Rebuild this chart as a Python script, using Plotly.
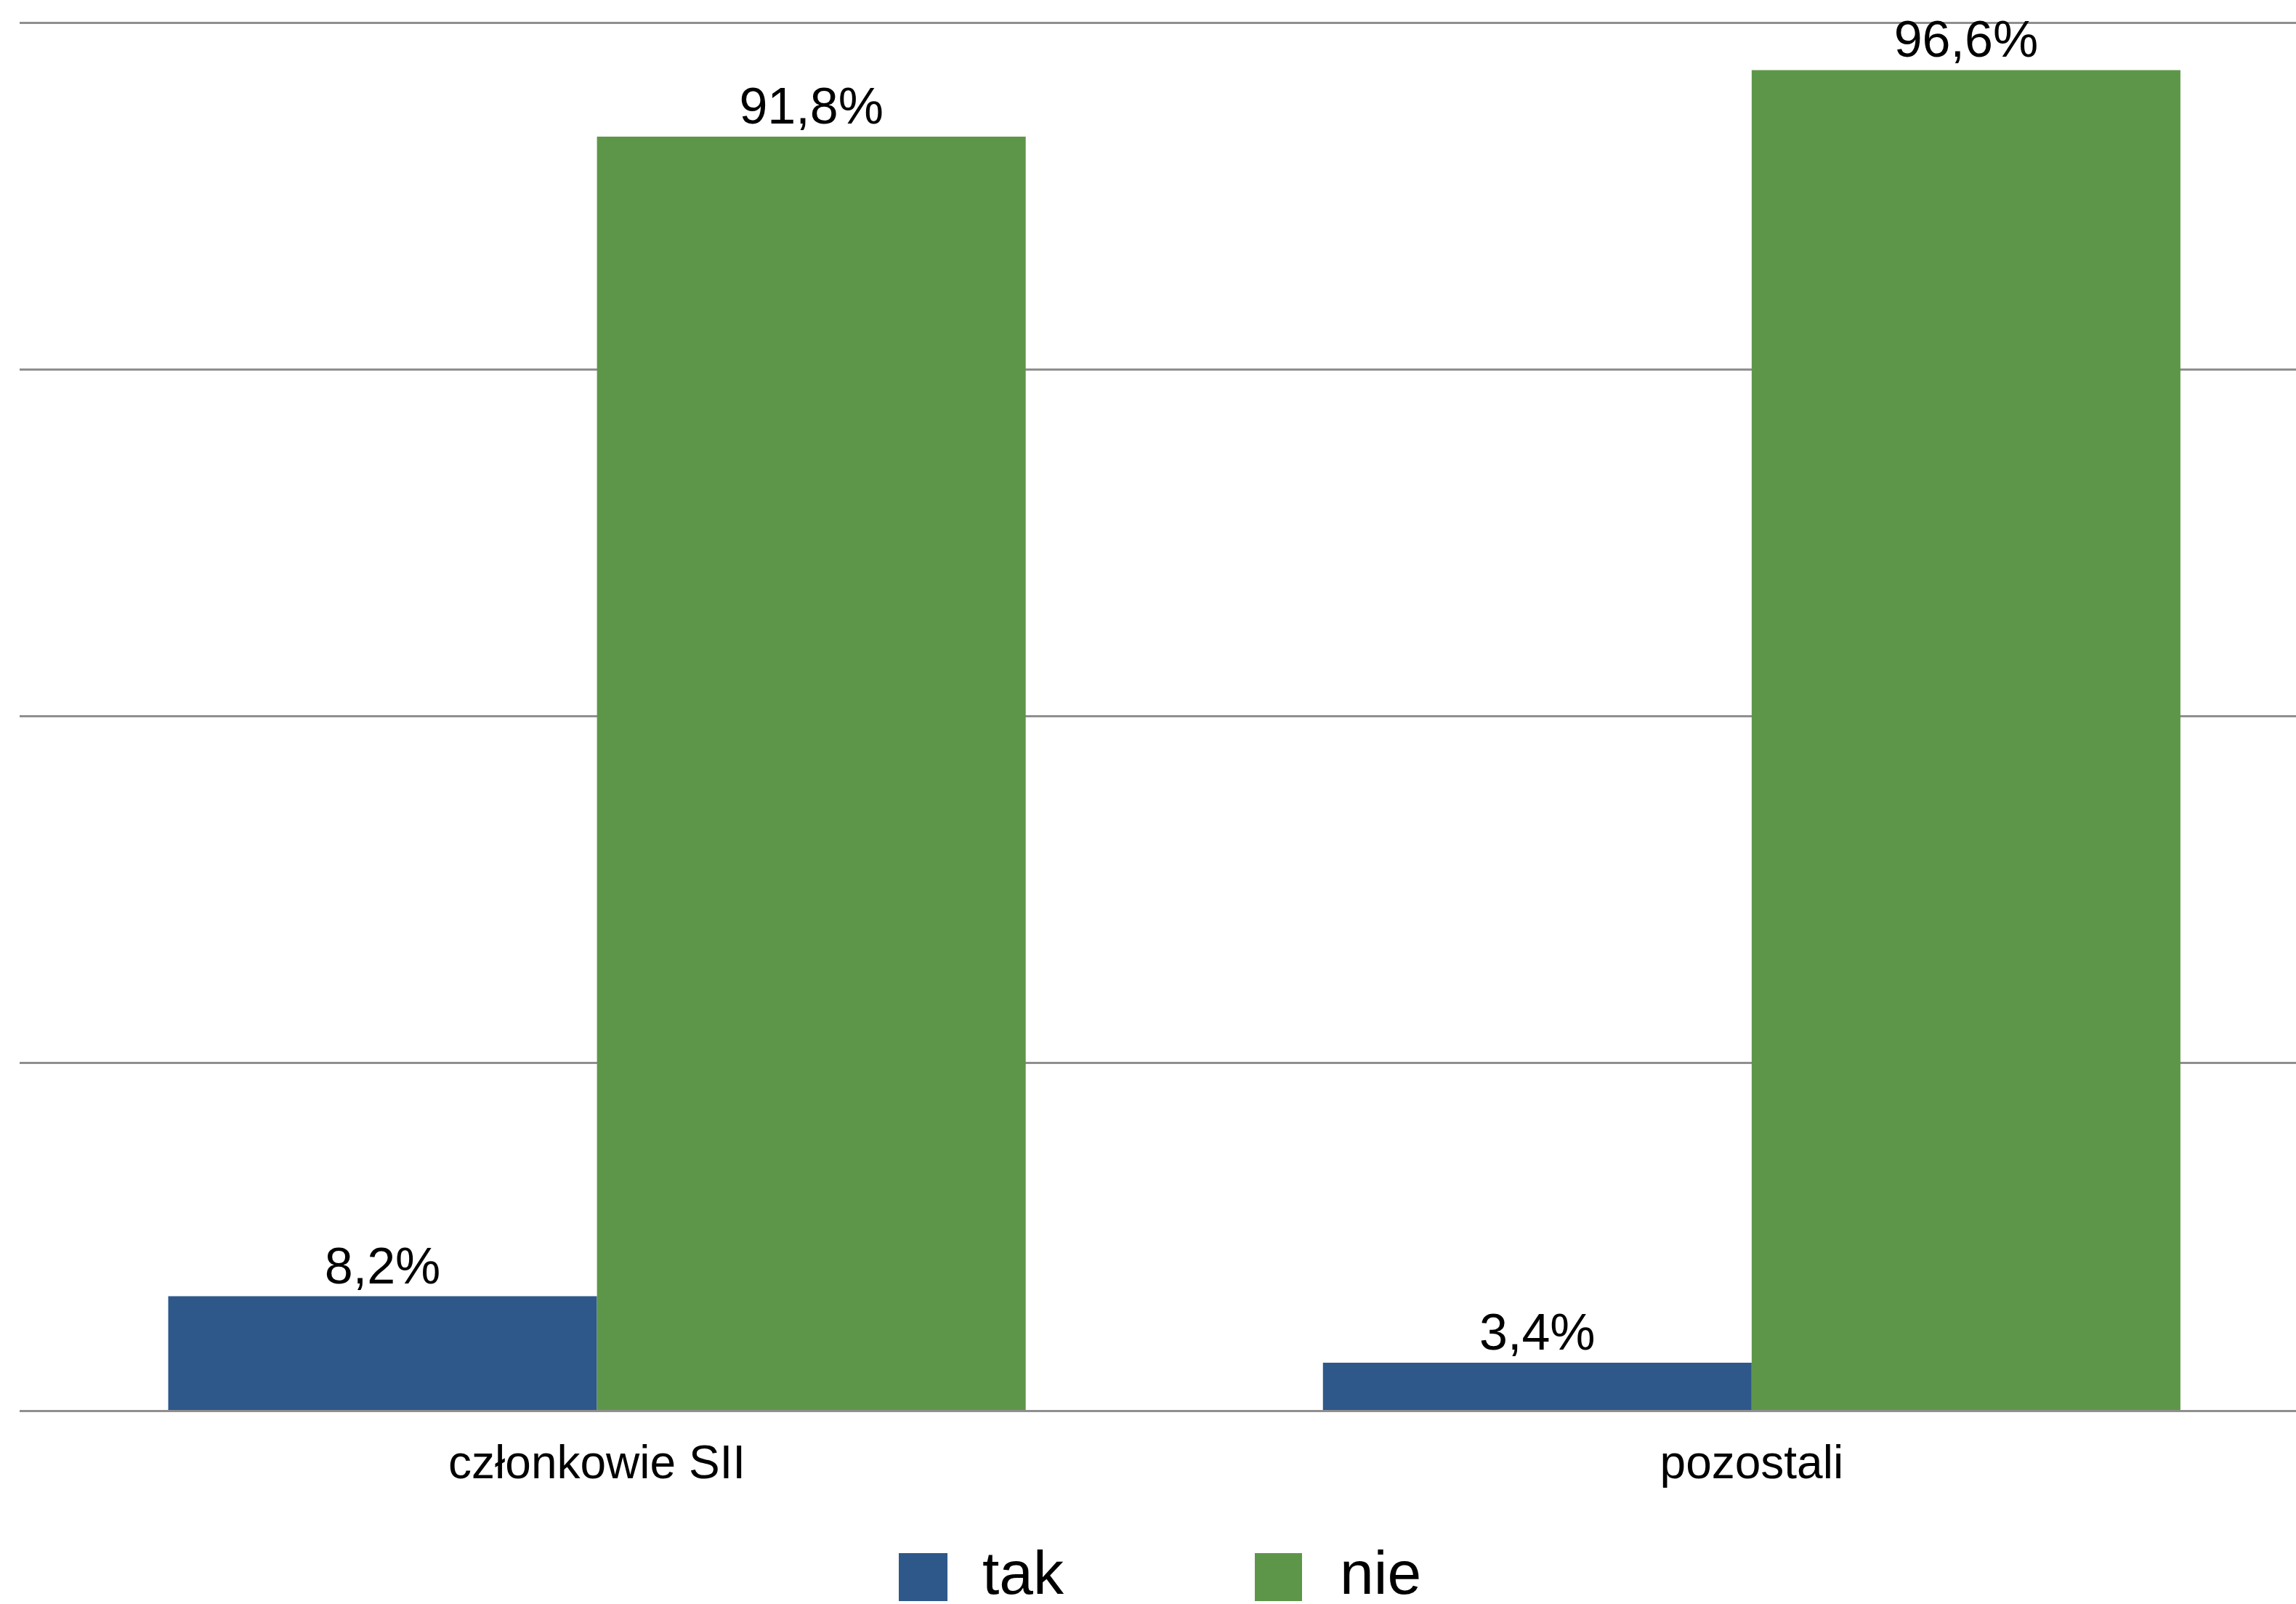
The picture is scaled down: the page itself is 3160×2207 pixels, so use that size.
import plotly.graph_objects as go

# ---- data ----
categories = ["członkowie SII", "pozostali"]
series_names = ["tak", "nie"]
tak_values = [8.2, 3.4]
nie_values = [91.8, 96.6]
series_colors = ["#2E588A", "#5E9649"]

# ---- layout constants (pixels) ----
W, H = 3160, 2207
ML, MR, MT, MB = 27, 0, 30, 267
PW, PH = W - ML - MR, H - MT - MB
Y_MAX = 100.08

def px_to_paper_x(px):
    return (px - ML) / PW

def px_to_paper_y(py):
    return (H - MB - py) / PH

FONT = "Liberation Sans, Arial, Helvetica, sans-serif"

fig = go.Figure()
for name, vals, col in zip(series_names, [tak_values, nie_values], series_colors):
    fig.add_trace(go.Bar(
        x=categories, y=vals, name=name,
        marker=dict(color=col, line=dict(width=0)),
        texttemplate="%{y:.1f}%", textposition="outside",
        textfont=dict(family=FONT, size=70, color="black"),
        cliponaxis=False, constraintext="none",
        showlegend=False,
    ))

# manual legend (large square swatches as in the reference)
legend_boxes = [(1237, 1304), (1727, 1792)]
legend_text_x = [1350, 1842]
for (x0, x1), tx, name, col in zip(legend_boxes, legend_text_x, series_names, series_colors):
    fig.add_shape(type="rect", xref="paper", yref="paper",
                  x0=px_to_paper_x(x0), x1=px_to_paper_x(x1),
                  y0=px_to_paper_y(2203), y1=px_to_paper_y(2137),
                  fillcolor=col, line=dict(width=0))
    fig.add_annotation(xref="paper", yref="paper",
                       x=px_to_paper_x(tx), y=px_to_paper_y(2164),
                       xanchor="left", yanchor="middle", showarrow=False,
                       text=name, font=dict(family=FONT, size=84, color="black"))

fig.update_layout(
    width=W, height=H,
    margin=dict(l=ML, r=MR, t=MT, b=MB, pad=0),
    paper_bgcolor="white", plot_bgcolor="white",
    barmode="group", bargap=0.2574, bargroupgap=0,
    separators=",.",
    showlegend=False,
    font=dict(family=FONT, color="black"),
)
fig.update_xaxes(
    range=[-0.5, 1.4714],
    showline=True, linecolor="#8F8F8F", linewidth=3,
    showgrid=False, zeroline=False,
    ticks="outside", ticklen=14, tickcolor="rgba(0,0,0,0)",
    tickfont=dict(family=FONT, size=64, color="black"),
)
fig.update_yaxes(
    range=[0, Y_MAX], dtick=25, tick0=0,
    showgrid=True, gridcolor="#8F8F8F", gridwidth=3,
    showticklabels=False, zeroline=False, showline=False,
)

fig.write_html(
    "out.html",
    config={"displayModeBar": False},
    post_script="document.body.style.margin='0px';document.body.style.overflow='hidden';",
)
